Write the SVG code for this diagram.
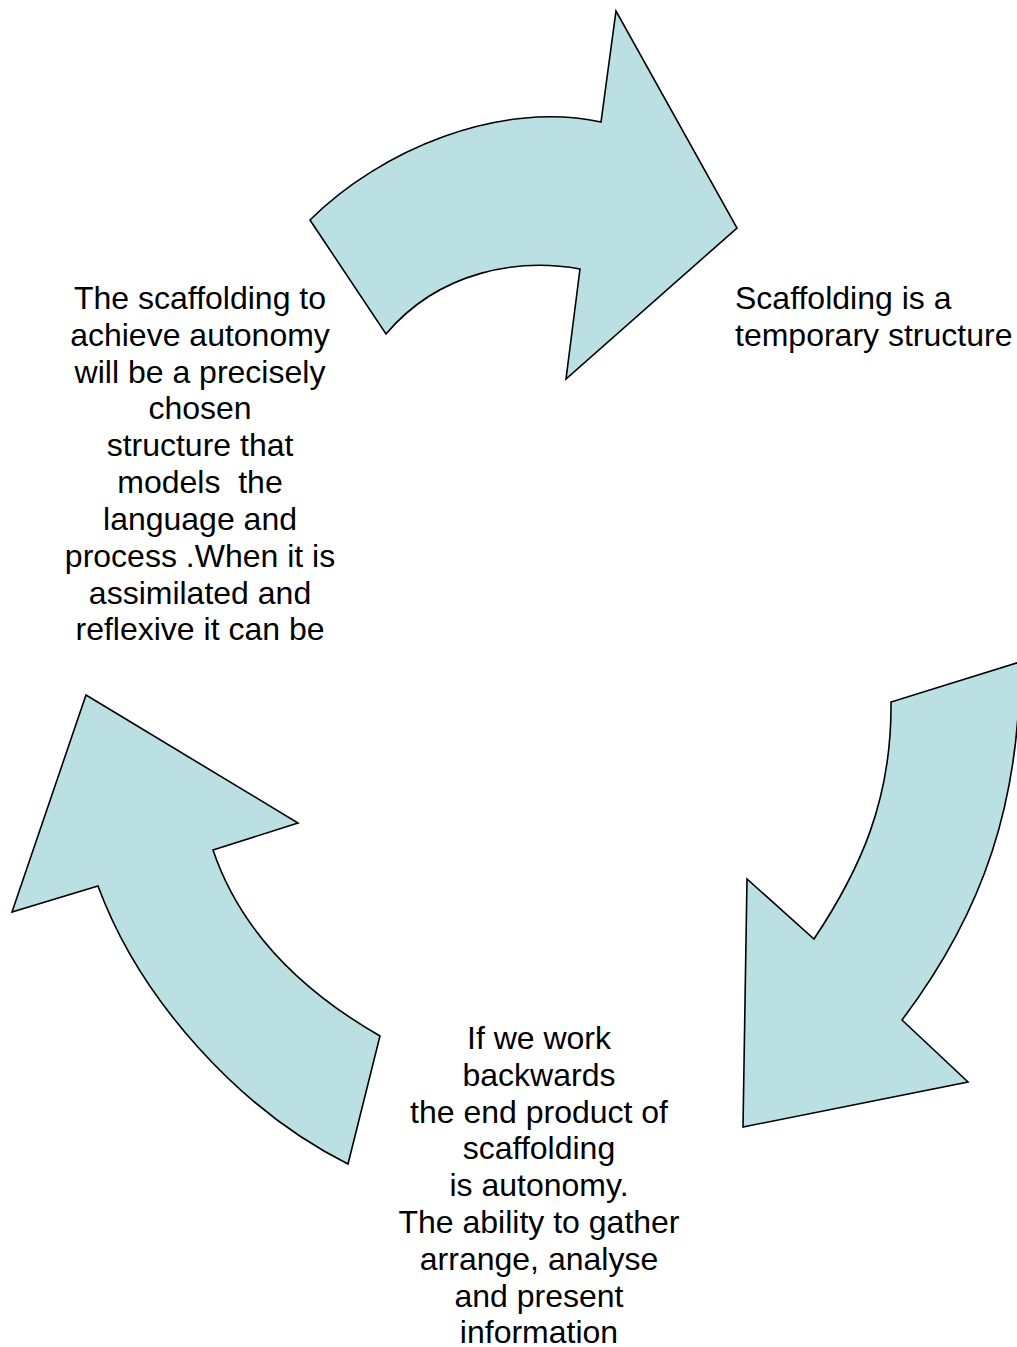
<svg xmlns="http://www.w3.org/2000/svg" width="1017" height="1347" viewBox="0 0 1017 1347">
<style>
.arrow{fill:#BAE0E3;stroke:#000;stroke-width:1.6;stroke-linejoin:miter}
.t{font-family:"Liberation Sans",Arial,sans-serif;font-size:32px;fill:#000;white-space:pre}
.c{text-anchor:middle}
</style>
<rect width="1017" height="1347" fill="#fff"/>
<g id="connectors">
<path id="arrow-top" class="arrow" d="M310,220 C380,150 500,100 601,122 L616,11 L737,228 L566,379 L580,269 C520,258 440,270 386,334 Z"/>
<path id="arrow-right" class="arrow" d="M1020,662 C1020,800 985,910 902,1020 L968,1082 L743,1127 L747,879 L814,939 C860,870 892,800 891,702 Z"/>
<path id="arrow-left" class="arrow" d="M348,1164 C240,1110 140,1000 98,886 L12,912 L86,695 L298,823 L213,850 C240,930 300,990 380,1036 Z"/>
</g>
<g id="node-right">
<text class="t" x="735" y="309">Scaffolding is a</text>
<text class="t" x="735" y="346">temporary structure</text>
</g>
<g id="node-left">
<text class="t c" x="200" y="309">The scaffolding to</text>
<text class="t c" x="200" y="346">achieve autonomy</text>
<text class="t c" x="200" y="383">will be a precisely</text>
<text class="t c" x="200" y="419">chosen</text>
<text class="t c" x="200" y="456">structure that</text>
<text class="t c" x="200" y="493">models  the</text>
<text class="t c" x="200" y="530">language and</text>
<text class="t c" x="200" y="567">process .When it is</text>
<text class="t c" x="200" y="604">assimilated and</text>
<text class="t c" x="200" y="640">reflexive it can be</text>
</g>
<g id="node-bottom">
<text class="t c" x="539" y="1049">If we work</text>
<text class="t c" x="539" y="1086">backwards</text>
<text class="t c" x="539" y="1123">the end product of</text>
<text class="t c" x="539" y="1159">scaffolding</text>
<text class="t c" x="539" y="1196">is autonomy.</text>
<text class="t c" x="539" y="1233">The ability to gather</text>
<text class="t c" x="539" y="1270">arrange, analyse</text>
<text class="t c" x="539" y="1307">and present</text>
<text class="t c" x="539" y="1343">information</text>
</g>
</svg>
